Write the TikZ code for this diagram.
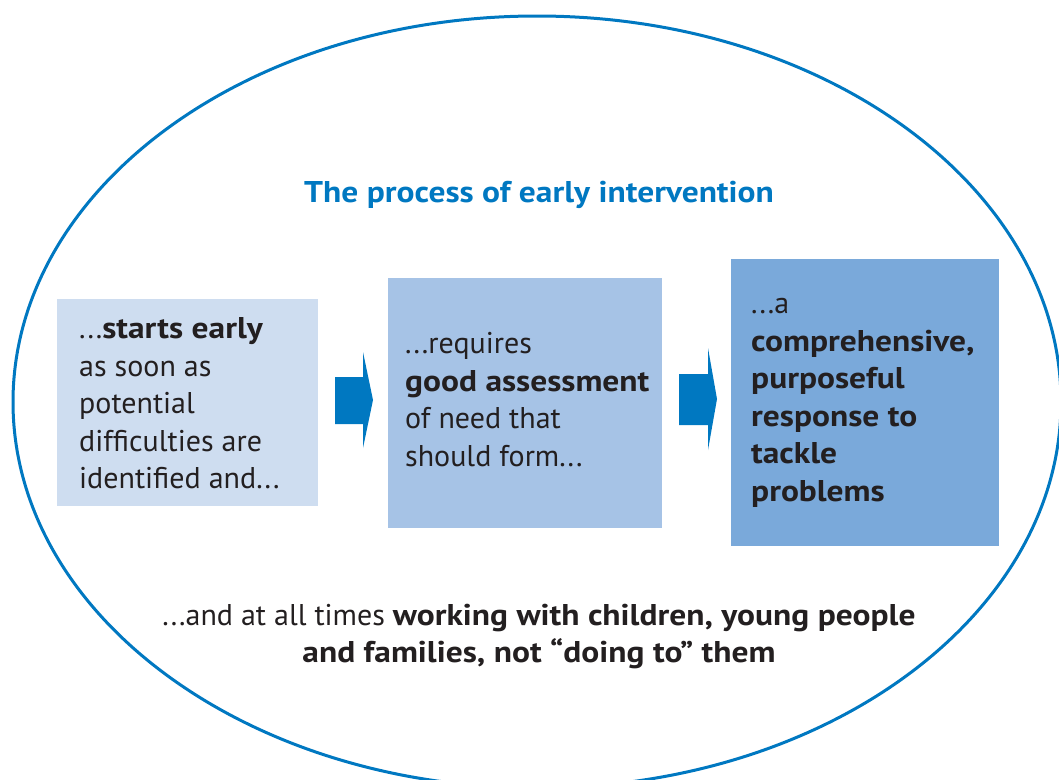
\documentclass[tikz,border=0pt]{standalone}
\usepackage{fontspec}
\usetikzlibrary{shapes.geometric}
\setmainfont{PT Sans}[BoldFeatures={FakeStretch=1.115}]
\definecolor{eiblue}{RGB}{0,120,193}
\definecolor{boxA}{RGB}{206,221,240}
\definecolor{boxB}{RGB}{166,195,230}
\definecolor{boxC}{RGB}{122,169,218}
\definecolor{txt}{RGB}{35,31,32}
\begin{document}
\begin{tikzpicture}[x=1pt,y=-1pt,
  panel/.style={rectangle, inner sep=0pt, anchor=north west},
  ln/.style={anchor=base west, inner sep=0pt, text=txt, font=\fontsize{30}{36}\selectfont},
  cl/.style={anchor=base, inner sep=0pt, text=txt, font=\fontsize{30}{36}\selectfont},
  blockarrow/.style={fill=eiblue, draw=none}]
\useasboundingbox (0,0) rectangle (1059,779);
\fill[white] (0,0) rectangle (1059,779);
\node[draw=eiblue, line width=3pt, ellipse, minimum width=1048pt, minimum height=772pt, inner sep=0pt] (oval) at (537,402) {};
\node[anchor=base, inner sep=0pt, text=eiblue, font=\fontsize{30}{34}\selectfont\bfseries] (title) at (539,202) {The process of early intervention};
% boxes
\node[panel, fill=boxA, minimum width=261pt, minimum height=207pt] (b1) at (57,299) {};
\node[panel, fill=boxB, minimum width=274pt, minimum height=250pt] (b2) at (388,278) {};
\node[panel, fill=boxC, minimum width=268pt, minimum height=287pt] (b3) at (731,259) {};
% block arrows
\fill[blockarrow] (335,377) -- (363,377) -- (363,352) -- (373,400) -- (363,448) -- (363,424) -- (335,424) -- cycle;
\fill[blockarrow] (679,374) -- (708,374) -- (708,348) -- (717,399) -- (708,450) -- (708,425) -- (679,425) -- cycle;
% box 1 text
\node[ln] (a1) at (79,338) {...\textbf{starts early}};
\node[ln] (a2) at (79,376) {as soon as};
\node[ln] (a3) at (79,413) {potential};
\node[ln] (a4) at (79,451) {difficulties are};
\node[ln] (a5) at (79,488) {identified and...};
% box 2 text
\node[ln] (c1) at (405,353) {...requires};
\node[ln] (c2) at (405,391) {\textbf{good assessment}};
\node[ln] (c3) at (405,428) {of need that};
\node[ln] (c4) at (405,466) {should form...};
% box 3 text
\node[ln] (d1) at (751,313) {...a};
\node[ln] (d2) at (751,351) {\textbf{comprehensive,}};
\node[ln] (d3) at (751,388) {\textbf{purposeful}};
\node[ln] (d4) at (751,426) {\textbf{response to}};
\node[ln] (d5) at (751,463) {\textbf{tackle}};
\node[ln] (d6) at (751,501) {\textbf{problems}};
% bottom text
\node[cl] (e1) at (539,625) {...and at all times \textbf{working with children, young people}};
\node[cl] (e2) at (539,662) {\textbf{and families, not “doing to” them}};
\end{tikzpicture}
\end{document}
